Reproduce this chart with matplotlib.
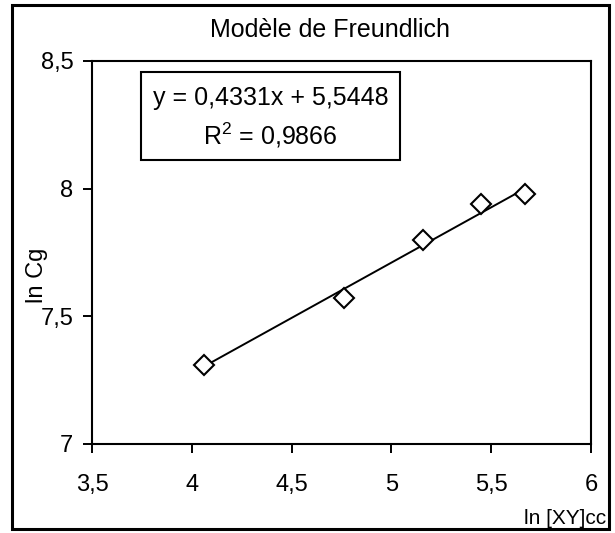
import matplotlib.pyplot as plt
from matplotlib.patches import Rectangle
from matplotlib.ticker import FuncFormatter

plt.rcParams['font.family'] = ['Liberation Sans', 'DejaVu Sans']

# Points expérimentaux (ln [XY]cc, ln Cg)
ln_xy = [4.06, 4.76, 5.16, 5.45, 5.67]
ln_cg = [7.31, 7.57, 7.80, 7.94, 7.98]

# Droite de régression
pente = 0.4331
ordonnee = 5.5448
r2 = 0.9866

fig = plt.figure(figsize=(6.15, 5.33), dpi=100)
ax = fig.add_axes([0.1496, 0.167, 0.8114, 0.7186])

# Courbe de tendance linéaire
x_lin = [min(ln_xy), max(ln_xy)]
y_lin = [pente * x + ordonnee for x in x_lin]
ax.plot(x_lin, y_lin, "-", color="black", linewidth=1.4, zorder=2)

# Points de mesure en losanges vides
ax.plot(ln_xy, ln_cg, "D", markersize=10.5, markerfacecolor="white",
        markeredgecolor="black", markeredgewidth=1.5, linestyle="none", zorder=3)

ax.set_xlim(3.5, 6)
ax.set_ylim(7, 8.5)
ax.set_xticks([3.5, 4, 4.5, 5, 5.5, 6])
ax.set_yticks([7, 7.5, 8, 8.5])

virgule = FuncFormatter(lambda v, p: ("%g" % v).replace(".", ","))
ax.xaxis.set_major_formatter(virgule)
ax.yaxis.set_major_formatter(virgule)
ax.tick_params(axis="both", direction="out", length=6.5, width=1.4, labelsize=17)
ax.tick_params(axis="x", pad=15)
ax.tick_params(axis="y", pad=7)
for s in ax.spines.values():
    s.set_linewidth(1.5)

# Équation dans un cadre
fmt = lambda v: ("%.4f" % v).replace(".", ",")
ax.add_patch(Rectangle((0.098, 0.742), 0.519, 0.229, transform=ax.transAxes,
                       facecolor="white", edgecolor="black", linewidth=1.5, zorder=4))
ax.text(0.3575, 0.903, "y = %sx + %s" % (fmt(pente), fmt(ordonnee)),
        transform=ax.transAxes, ha="center", va="center", fontsize=18, zorder=5)
ax.text(0.3575, 0.806, "$\\mathregular{R^2}$ = %s" % fmt(r2),
        transform=ax.transAxes, ha="center", va="center", fontsize=18, zorder=5)

fig.text(330 / 615, 1 - 30 / 533, "Modèle de Freundlich", ha="center", va="center", fontsize=18)
fig.text(37 / 615, 1 - 275 / 533, "ln Cg", rotation=90, ha="center", va="center", fontsize=17)
fig.text(606 / 615, 1 - 519 / 533, "ln [XY]cc", ha="right", va="center", fontsize=15)

# Cadre extérieur
fig.patches.append(Rectangle((12 / 615, 4 / 533), 597 / 615, 524 / 533,
                             transform=fig.transFigure, fill=False,
                             edgecolor="black", linewidth=2.2))

plt.savefig("out.png", dpi=100)
